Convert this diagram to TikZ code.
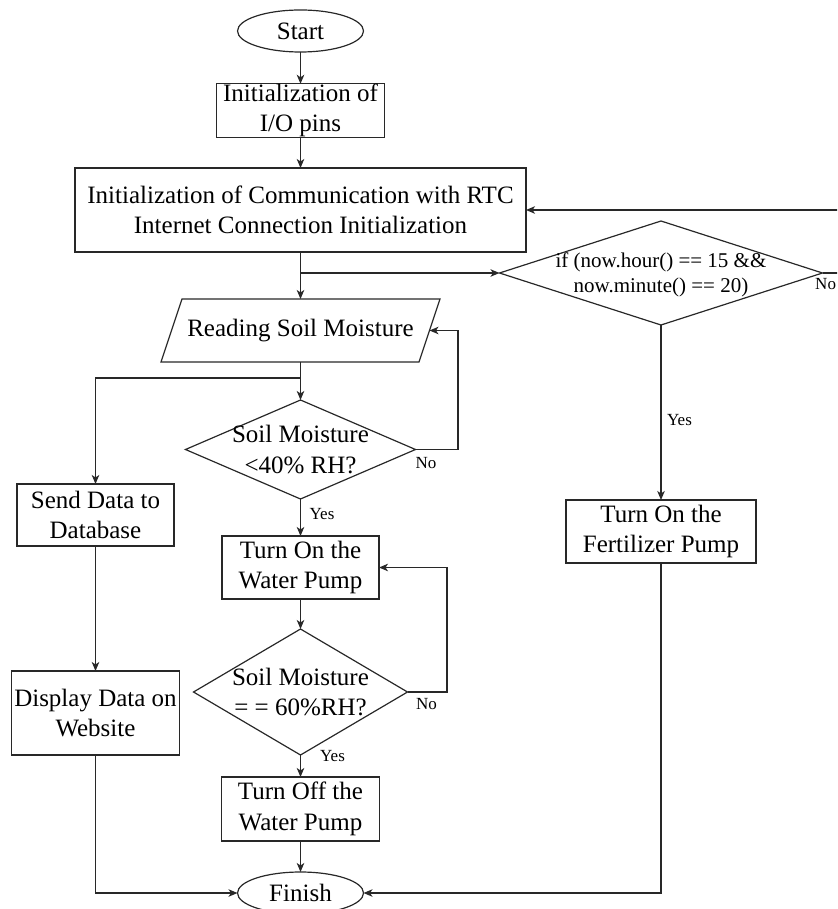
\documentclass[tikz,border=0pt]{standalone}
\usepackage{fontspec}
\setmainfont{Liberation Serif}
\usetikzlibrary{shapes.geometric,arrows.meta,calc}
\definecolor{lc}{RGB}{40,40,40}
\begin{document}
\begin{tikzpicture}[x=1pt,y=-1pt,
  every node/.style={inner sep=0pt, outer sep=0pt},
  box/.style={draw=lc, line width=1.2pt, rectangle, align=center, font=\fontsize{25}{30.5}\selectfont},
  term/.style={draw=lc, line width=1.2pt, ellipse, minimum width=126, minimum height=42, font=\fontsize{25}{30}\selectfont},
  dia/.style={draw=lc, line width=1.2pt, diamond},
  dtext/.style={align=center, font=\fontsize{25}{30.5}\selectfont},
  lbl/.style={font=\fontsize{17}{20}\selectfont},
  arr/.style={draw=lc, line width=1.2pt, -{Stealth[length=9pt,width=7.5pt,inset=2.5pt]}}]
\clip (0,0) rectangle (837,909);
% nodes
\node[term] (start) at (300.5,31) {Start};
\node[box, minimum width=168, minimum height=53] (init) at (300.5,110.5) {Initialization of\\I/O pins};
\node[box, minimum width=451, minimum height=84] (rtc) at (300.5,210) {Initialization of Communication with RTC\\Internet Connection Initialization};
\node[dia, minimum width=323, minimum height=104] (d0) at (661,273) {};
\node[dtext, font=\fontsize{21}{25.5}\selectfont] (d0t) at (661,275) {if (now.hour() == 15 \&\&\\now.minute() == 20)};
\node[box, draw=none, minimum width=258, minimum height=63] (read) at (300.5,330.5) {Reading Soil Moisture};
\draw[draw=lc, line width=1.2pt] ([xshift=-10.5pt]read.south west) -- ([xshift=10.5pt]read.north west) -- ([xshift=10.5pt]read.north east) -- ([xshift=-10.5pt]read.south east) -- cycle;
\node[dia, minimum width=230, minimum height=99] (d1) at (300.5,449.5) {};
\node[dtext] (d1t) at (300.5,449.5) {Soil Moisture\\<40\% RH?};
\node[box, minimum width=157, minimum height=62] (send) at (95.5,515) {Send Data to\\Database};
\node[box, minimum width=168, minimum height=84] (disp) at (95.5,713) {Display Data on\\Website};
\node[box, minimum width=157, minimum height=63] (won) at (300.5,567.5) {Turn On the\\Water Pump};
\node[dia, minimum width=214, minimum height=126] (d2) at (300.5,692) {};
\node[dtext] (d2t) at (300.5,692) {Soil Moisture\\= = 60\%RH?};
\node[box, minimum width=158, minimum height=64] (woff) at (300.5,809) {Turn Off the\\Water Pump};
\node[term] (fin) at (300.5,893) {Finish};
\node[box, minimum width=190, minimum height=63] (fert) at (661,531.5) {Turn On the\\Fertilizer Pump};
% coordinates
\coordinate (b1) at (300.5,273);
\coordinate (b2) at (300.5,378);
\coordinate (r1) at (850,273);
\coordinate (c1) at (458,449.5);
\coordinate (c2) at (447,692);
% connectors
\draw[arr] (start.south) -- (init.north);
\draw[arr] (init.south) -- (rtc.north);
\draw[arr] (rtc.south) -- (read.north);
\draw[arr] (b1) -- (d0.west);
\draw[arr] (d0.east) -- (r1) |- (rtc.east);
\draw[arr] (d0.south) -- (fert.north);
\draw[arr] (read.south) -- (d1.north);
\draw[arr] (b2) -| (send.north);
\draw[arr] (d1.east) -- (c1) |- (read.east);
\draw[arr] (d1.south) -- (won.north);
\draw[arr] (won.south) -- (d2.north);
\draw[arr] (d2.east) -- (c2) |- (won.east);
\draw[arr] (d2.south) -- (woff.north);
\draw[arr] (woff.south) -- (fin.north);
\draw[arr] (send.south) -- (disp.north);
\draw[arr] (disp.south) |- (fin.west);
\draw[arr] (fert.south) |- (fin.east);
% labels
\node[lbl, anchor=east] (n0) at (836,284) {No};
\node[lbl] (y0) at (679.5,420) {Yes};
\node[lbl] (n1) at (426,463) {No};
\node[lbl] (y1) at (322,514.5) {Yes};
\node[lbl] (n2) at (426.5,704.5) {No};
\node[lbl] (y2) at (332.5,756.5) {Yes};
\end{tikzpicture}
\end{document}
